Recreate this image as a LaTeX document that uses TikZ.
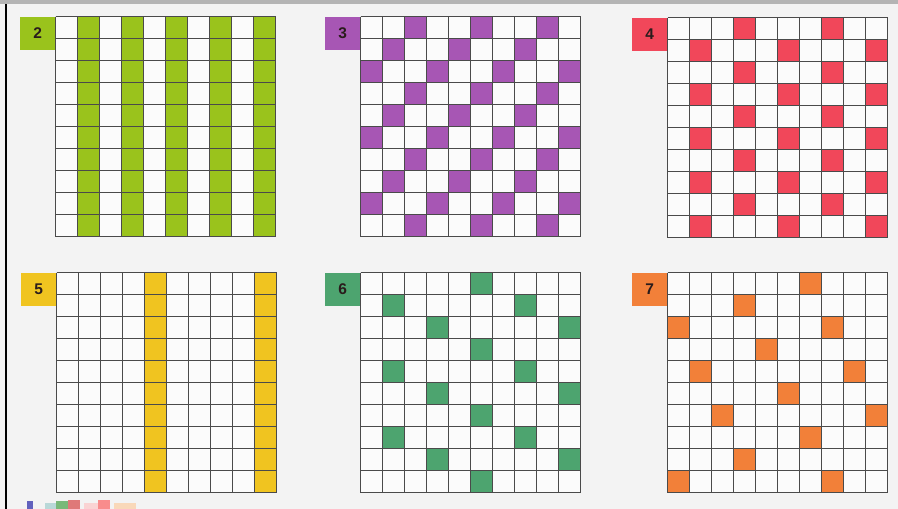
\documentclass[tikz,border=0pt]{standalone}
\usepackage{fontspec}
\setmainfont{Liberation Sans}
\usepackage{xcolor}
\usetikzlibrary{positioning}
\definecolor{pagegray}{HTML}{F3F3F3}
\definecolor{bandgray}{HTML}{B4B4B4}
\definecolor{cellwhite}{HTML}{FBFBFB}
\definecolor{linegray}{HTML}{4A4A4A}
\definecolor{twos}{HTML}{9AC31C}
\definecolor{threes}{HTML}{A756B4}
\definecolor{fours}{HTML}{F1475A}
\definecolor{fives}{HTML}{F0C420}
\definecolor{sixes}{HTML}{4DA46F}
\definecolor{sevens}{HTML}{F28039}
\definecolor{tagtext}{HTML}{2A1C1C}

\tikzset{
    cellline/.style={draw=linegray, line width=1.25pt},
    tagbox/.style={minimum width=35pt, minimum height=33pt, inner sep=0pt,
        text=tagtext, font=\fontsize{15.5}{15.5}\selectfont\bfseries}
}

\begin{document}
\begin{tikzpicture}[x=1pt, y=-1pt]

\useasboundingbox (0,0) rectangle (898,509);
\fill[pagegray] (0,0) rectangle (898,509);
\fill[bandgray] (0,0) rectangle (898,4);
\draw[black, line width=2pt] (6,4) -- (6,509);

% Hundred charts — multiples of n coloured
\foreach \n/\gx/\gy/\cname in {
    2/55.5/16.5/twos, 3/360.5/16.5/threes, 4/667.5/17.5/fours,
    5/56.5/272.5/fives, 6/360.5/272.5/sixes, 7/667.5/272.5/sevens}{
    \fill[cellwhite] (\gx,\gy) rectangle ++(220,220);
    \foreach \k in {1,...,100}{
        \pgfmathtruncatemacro{\rest}{mod(\k,\n)}
        \pgfmathtruncatemacro{\cx}{mod(\k-1,10)}
        \pgfmathtruncatemacro{\cy}{floor((\k-1)/10)}
        \ifnum\rest=0
            \fill[\cname] ({\gx+\cx*22},{\gy+\cy*22}) rectangle ++(22,22);
        \fi
    }
    \foreach \i in {0,...,10}{
        \draw[cellline] ({\gx+\i*22},\gy) -- ++(0,220);
        \draw[cellline] (\gx,{\gy+\i*22}) -- ++(220,0);
    }
    \node[tagbox, fill=\cname, anchor=north east] (tag\n) at (\gx,\gy) {\n};
}

% Logo scraps at the bottom edge
\fill[blue!60!black, opacity=0.6] (27,501) rectangle (33,509);
\fill[teal!50, opacity=0.5] (45,503) rectangle (56,509);
\fill[green!50!black, opacity=0.5] (56,501) rectangle (68,509);
\fill[red!80!black, opacity=0.5] (68,500) rectangle (80,509);
\fill[pink, opacity=0.6] (84,503) rectangle (98,509);
\fill[red!85, opacity=0.5] (98,500) rectangle (110,509);
\fill[orange!50, opacity=0.5] (114,503) rectangle (136,509);

\end{tikzpicture}
\end{document}
